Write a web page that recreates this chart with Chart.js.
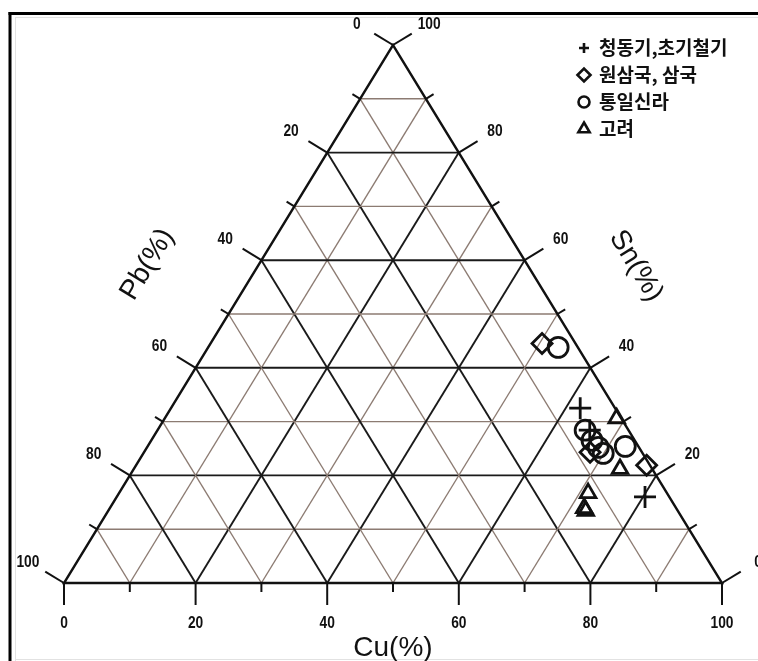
<!DOCTYPE html>
<html>
<head>
<meta charset="utf-8">
<script src="https://cdn.jsdelivr.net/npm/chart.js@4.4.1/dist/chart.umd.min.js"></script>
<style>
  html, body { margin: 0; padding: 0; background: #fff; }
  canvas { display: block; }
</style>
</head>
<body>
<canvas id="tern" width="758" height="661"></canvas>
<script>
// Bronze composition, percent. Pb = 100 - Cu - Sn.
const seriesNames = ['청동기,초기철기', '원삼국, 삼국', '통일신라', '고려'];
const bronzeAgeCu = [62.2, 65.7, 80.3];
const bronzeAgeSn = [32.5, 28.4, 16.0];
const threeKingdomsCu = [50.4, 67.8, 77.6];
const threeKingdomsSn = [44.5, 24.3, 21.9];
const unifiedSillaCu = [53.2, 65.0, 67.0, 68.6, 69.9, 72.6];
const unifiedSillaSn = [43.8, 28.4, 26.5, 25.2, 24.1, 25.4];
const goryeoCu = [68.7, 73.9, 71.3, 72.1, 72.6];
const goryeoSn = [30.6, 21.2, 16.7, 13.9, 13.4];

const gridSteps = [10, 20, 30, 40, 50, 60, 70, 80, 90];
const tickValues = [0, 10, 20, 30, 40, 50, 60, 70, 80, 90, 100];
const labelValues = [0, 20, 40, 60, 80, 100];
const axisTitles = { bottom: 'Cu(%)', left: 'Pb(%)', right: 'Sn(%)' };

// ternary (Cu, Sn) -> cartesian value pair on the hidden linear scales
function toXY(cu, sn) { return { x: cu + sn / 2, y: sn }; }
function series(cu, sn) { return cu.map((c, i) => toXY(c, sn[i])); }

const INK = '#111';
const MAJOR = '#1a1a1a';
const MINOR = '#8c7b72';
const numFont = 'bold 16px "Liberation Sans", Arial, sans-serif';
const titleFont = '28px "Liberation Sans", Arial, sans-serif';

function px(chart, cu, sn) {
  const p = toXY(cu, sn);
  return { x: chart.scales.x.getPixelForValue(p.x), y: chart.scales.y.getPixelForValue(p.y) };
}
function line(ctx, a, b) { ctx.beginPath(); ctx.moveTo(a.x, a.y); ctx.lineTo(b.x, b.y); ctx.stroke(); }
// condensed numerals
function num(ctx, text, x, y) {
  ctx.save();
  ctx.translate(x, y);
  ctx.scale(0.86, 1);
  ctx.fillText(text, 0, 0);
  ctx.restore();
}

const framePlugin = {
  id: 'frame',
  beforeDraw(chart) {
    const ctx = chart.ctx;
    ctx.save();
    ctx.fillStyle = '#fff';
    ctx.fillRect(0, 0, chart.width, chart.height);
    ctx.strokeStyle = '#e2e2e2';
    ctx.lineWidth = 1;
    line(ctx, { x: 15.5, y: 17 }, { x: 15.5, y: 661 });
    line(ctx, { x: 15, y: 17.5 }, { x: 758, y: 17.5 });
    line(ctx, { x: 15, y: 659.5 }, { x: 758, y: 659.5 });
    ctx.strokeStyle = '#000';
    ctx.lineWidth = 3;
    line(ctx, { x: 10, y: 12 }, { x: 10, y: 661 });
    line(ctx, { x: 8.5, y: 13.5 }, { x: 758, y: 13.5 });
    ctx.restore();
  }
};

const ternaryPlugin = {
  id: 'ternaryGrid',
  beforeDatasetsDraw(chart) {
    const ctx = chart.ctx;
    const P = (cu, sn) => px(chart, cu, sn);
    const apex = P(0, 100), bl = P(0, 0), br = P(100, 0);
    ctx.save();
    ctx.lineCap = 'butt';

    // interior grid: constant Sn, constant Cu, constant Pb
    gridSteps.forEach(k => {
      const major = k % 20 === 0;
      ctx.strokeStyle = major ? MAJOR : MINOR;
      ctx.lineWidth = major ? 1.9 : 1.4;
      line(ctx, P(0, k), P(100 - k, k));
      line(ctx, P(k, 0), P(k, 100 - k));
      line(ctx, P(100 - k, 0), P(0, 100 - k));
    });

    // outline
    ctx.strokeStyle = INK;
    ctx.lineWidth = 2.4;
    ctx.lineJoin = 'miter';
    ctx.beginPath();
    ctx.moveTo(bl.x, bl.y); ctx.lineTo(br.x, br.y); ctx.lineTo(apex.x, apex.y); ctx.closePath();
    ctx.stroke();

    // outward normals of the two slanted sides
    const dl = { x: apex.x - bl.x, y: apex.y - bl.y };
    const ll = Math.hypot(dl.x, dl.y);
    const nL = { x: dl.y / ll, y: -dl.x / ll };
    const dr = { x: apex.x - br.x, y: apex.y - br.y };
    const lr = Math.hypot(dr.x, dr.y);
    const nR = { x: -dr.y / lr, y: dr.x / lr };

    ctx.lineWidth = 2;
    tickValues.forEach(k => {
      const major = k % 20 === 0;
      const len = major ? 22 : 9;
      // bottom (Cu)
      const b = P(k, 0);
      line(ctx, b, { x: b.x, y: b.y + len });
      // right (Sn)
      const r = P(100 - k, k);
      line(ctx, r, { x: r.x + nR.x * len, y: r.y + nR.y * len });
      // left (Pb)
      const l = P(0, 100 - k);
      line(ctx, l, { x: l.x + nL.x * len, y: l.y + nL.y * len });
    });

    // tick labels
    ctx.fillStyle = INK;
    ctx.font = numFont;
    ctx.textAlign = 'center';
    ctx.textBaseline = 'middle';
    labelValues.forEach(k => {
      const b = P(k, 0);
      num(ctx, String(k), b.x, b.y + 41);
      const r = P(100 - k, k);
      num(ctx, String(k), r.x + nR.x * 40 + 2, r.y + nR.y * 40);
      const l = P(0, 100 - k);
      num(ctx, String(k), l.x + nL.x * 40 - 2, l.y + nL.y * 40);
    });

    // axis titles
    const ang = Math.atan2(dl.y, dl.x);
    ctx.font = titleFont;
    ctx.fillText(axisTitles.bottom, (bl.x + br.x) / 2, bl.y + 65);
    const midL = P(0, 50), midR = P(50, 50);
    ctx.save();
    ctx.translate(midL.x + nL.x * 95, midL.y + nL.y * 95);
    ctx.rotate(ang);
    ctx.fillText(axisTitles.left, 0, 0);
    ctx.restore();
    ctx.save();
    ctx.translate(midR.x + nR.x * 92, midR.y + nR.y * 92);
    ctx.rotate(-ang);
    ctx.fillText(axisTitles.right, 0, 0);
    ctx.restore();

    ctx.restore();
  }
};

const legendPlugin = {
  id: 'cornerLegend',
  afterDraw(chart) {
    const ctx = chart.ctx;
    const draw = Chart.helpers && Chart.helpers.drawPoint;
    ctx.save();
    chart.data.datasets.forEach((ds, i) => {
      const y = 48 + i * 27;
      const x = 584;
      ctx.strokeStyle = INK;
      ctx.fillStyle = 'rgba(0,0,0,0)';
      ctx.lineWidth = 2.6;
      if (draw) {
        draw(ctx, { pointStyle: ds.pointStyle, rotation: 0, radius: ds.legendRadius, borderWidth: 2.6 }, x, y);
      }
      ctx.fillStyle = INK;
      ctx.font = 'bold 19px "Noto Sans CJK KR", sans-serif';
      ctx.textAlign = 'left';
      ctx.textBaseline = 'middle';
      ctx.fillText(ds.label, 599, y);
    });
    ctx.restore();
  }
};

const common = { backgroundColor: 'rgba(0,0,0,0)', borderColor: INK, borderWidth: 2.8, clip: false };

new Chart(document.getElementById('tern'), {
  type: 'scatter',
  data: {
    datasets: [
      { ...common, label: seriesNames[0], data: series(bronzeAgeCu, bronzeAgeSn), pointStyle: 'cross', pointRadius: 11, legendRadius: 5 },
      { ...common, label: seriesNames[1], data: series(threeKingdomsCu, threeKingdomsSn), pointStyle: 'rectRot', pointRadius: 10, legendRadius: 6.5 },
      { ...common, label: seriesNames[2], data: series(unifiedSillaCu, unifiedSillaSn), pointStyle: 'circle', pointRadius: 10, legendRadius: 5.5 },
      { ...common, label: seriesNames[3], data: series(goryeoCu, goryeoSn), pointStyle: 'triangle', pointRadius: 9, legendRadius: 6.5 }
    ]
  },
  options: {
    responsive: false,
    animation: false,
    events: [],
    layout: { padding: { left: 64, right: 36, top: 45, bottom: 78 } },
    scales: {
      x: { type: 'linear', min: 0, max: 100, display: false },
      y: { type: 'linear', min: 0, max: 100, display: false }
    },
    plugins: { legend: { display: false }, tooltip: { enabled: false } }
  },
  plugins: [framePlugin, ternaryPlugin, legendPlugin]
});
</script>
</body>
</html>
